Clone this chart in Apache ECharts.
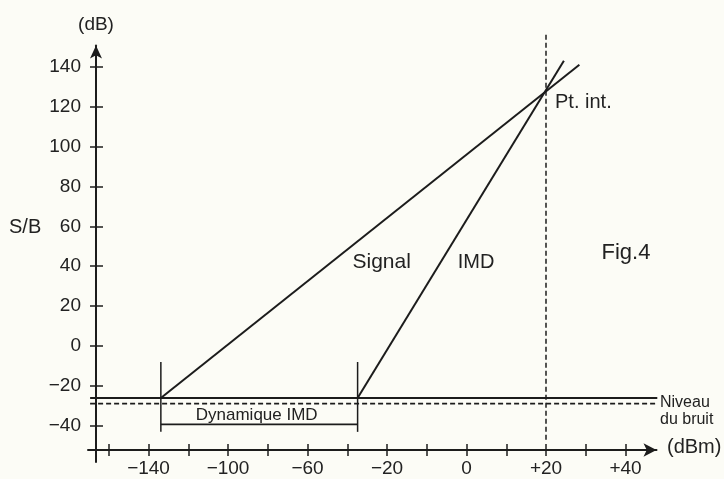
<!DOCTYPE html>
<html>
<head>
<meta charset="utf-8">
<script src="https://cdn.jsdelivr.net/npm/echarts@6/dist/echarts.min.js"></script>
<style>
html,body{margin:0;padding:0;background:#fcfcf6;}
#chart{width:724px;height:479px;}
</style>
</head>
<body>
<div id="chart"></div>
<script>
// X axis is drawn in tick positions (the figure's dBm scale is schematic)
var xTickPositions = [0,1,2,3,4,5,6,7,8,9,10,11,12,13];
var xTickLabels = ['', '\u2212140', '', '\u2212100', '', '\u221260', '', '\u221220', '', '0', '', '+20', '', '+40'];
var yTickValues = [-40,-20,0,20,40,60,80,100,120,140];

// Lines (x in tick positions, y in dB)
var signalLine = [[1.31, -26], [11.84, 141]];
var imdLine = [[6.26, -26], [11.45, 143]];
var noiseSolid = [[-0.47, -26], [13.8, -26]];
var noiseDashed = [[-0.47, -28.8], [13.8, -28.8]];
var interceptLine = [[11, 156], [11, -47.5]];
var dynLeft = [[1.31, -8], [1.31, -43]];
var dynRight = [[6.26, -8], [6.26, -43]];
var dynBracket = [[1.31, -39.2], [6.26, -39.2]];

var FONT = '"Liberation Sans", Arial, Helvetica, sans-serif';
var INK = '#1c1c1c';

function lineSeries(name, data, dashed, width) {
  return {
    name: name, type: 'line', data: data, showSymbol: false, symbol: 'none',
    clip: false, silent: true, animation: false,
    lineStyle: { color: INK, width: width || 2, type: dashed ? [5, 3] : 'solid' }
  };
}

var chart = echarts.init(document.getElementById('chart'));
var xMin = -0.523, xMax = 13.78;
var yMin = -58.1, yMax = 150.6;

chart.setOption({
  backgroundColor: '#fcfcf6',
  animation: false,
  grid: { left: 88, top: 45.5, width: 568.5, height: 416.5, containLabel: false },
  xAxis: [{
    type: 'value', min: xMin, max: xMax, position: 'bottom', offset: -12,
    axisLine: { show: true, onZero: false, symbol: ['none', 'arrow'], symbolSize: [10, 13],
      lineStyle: { color: INK, width: 2 } },
    axisTick: { show: true, inside: false, length: 6, customValues: xTickPositions,
      lineStyle: { color: INK, width: 1.5 } },
    axisLabel: { show: true, margin: 9, customValues: xTickPositions,
      fontSize: 19, fontFamily: FONT, color: '#222',
      formatter: function (v) { return xTickLabels[Math.round(v)] || ''; } },
    splitLine: { show: false }
  }, {
    type: 'value', min: xMin, max: xMax, position: 'bottom', offset: -12,
    axisLine: { show: false, onZero: false },
    axisTick: { show: true, inside: true, length: 6, customValues: xTickPositions,
      lineStyle: { color: INK, width: 1.5 } },
    axisLabel: { show: false },
    splitLine: { show: false }
  }],
  yAxis: [{
    type: 'value', min: yMin, max: yMax, position: 'left', offset: -8,
    axisLine: { show: true, onZero: false, symbol: ['none', 'arrow'], symbolSize: [9, 13],
      lineStyle: { color: INK, width: 2 } },
    axisTick: { show: true, inside: false, length: 6, customValues: yTickValues,
      lineStyle: { color: INK, width: 1.5 } },
    axisLabel: { show: true, margin: 15, customValues: yTickValues,
      fontSize: 19, fontFamily: FONT, color: '#222',
      formatter: function (v) { return v < 0 ? '\u2212' + Math.abs(v) : String(v); } },
    splitLine: { show: false }
  }, {
    type: 'value', min: yMin, max: yMax, position: 'left', offset: -8,
    axisLine: { show: false, onZero: false },
    axisTick: { show: true, inside: true, length: 7, customValues: yTickValues,
      lineStyle: { color: INK, width: 1.5 } },
    axisLabel: { show: false },
    splitLine: { show: false }
  }],
  series: [
    lineSeries('Signal', signalLine, false, 2),
    lineSeries('IMD', imdLine, false, 2),
    lineSeries('Niveau', noiseSolid, false, 2),
    lineSeries('Bruit', noiseDashed, true, 1.8),
    lineSeries('Pt. int.', interceptLine, true, 1.5),
    lineSeries('dynL', dynLeft, false, 1.5),
    lineSeries('dynR', dynRight, false, 1.5),
    lineSeries('dynB', dynBracket, false, 1.8)
  ],
  graphic: [
    { type: 'text', x: 96, y: 25, style: { text: '(dB)', font: '19px ' + FONT, fill: '#222', align: 'center', verticalAlign: 'middle' } },
    { type: 'text', x: 9, y: 227, style: { text: 'S/B', font: '20px ' + FONT, fill: '#222', align: 'left', verticalAlign: 'middle' } },
    { type: 'text', x: 381.7, y: 262, style: { text: 'Signal', font: '21px ' + FONT, fill: '#222', align: 'center', verticalAlign: 'middle' } },
    { type: 'text', x: 476, y: 262, style: { text: 'IMD', font: '20px ' + FONT, fill: '#222', align: 'center', verticalAlign: 'middle' } },
    { type: 'text', x: 626, y: 253, style: { text: 'Fig.4', font: '22px ' + FONT, fill: '#222', align: 'center', verticalAlign: 'middle' } },
    { type: 'text', x: 555, y: 102, style: { text: 'Pt. int.', font: '20px ' + FONT, fill: '#222', align: 'left', verticalAlign: 'middle' } },
    { type: 'text', x: 256.7, y: 415, style: { text: 'Dynamique IMD', font: '17px ' + FONT, fill: '#222', align: 'center', verticalAlign: 'middle' } },
    { type: 'text', x: 660, y: 403, style: { text: 'Niveau', font: '16px ' + FONT, fill: '#222', align: 'left', verticalAlign: 'middle' } },
    { type: 'text', x: 660, y: 420, style: { text: 'du bruit', font: '16px ' + FONT, fill: '#222', align: 'left', verticalAlign: 'middle' } },
    { type: 'text', x: 667, y: 447, style: { text: '(dBm)', font: '20px ' + FONT, fill: '#222', align: 'left', verticalAlign: 'middle' } }
  ]
});
</script>
</body>
</html>
